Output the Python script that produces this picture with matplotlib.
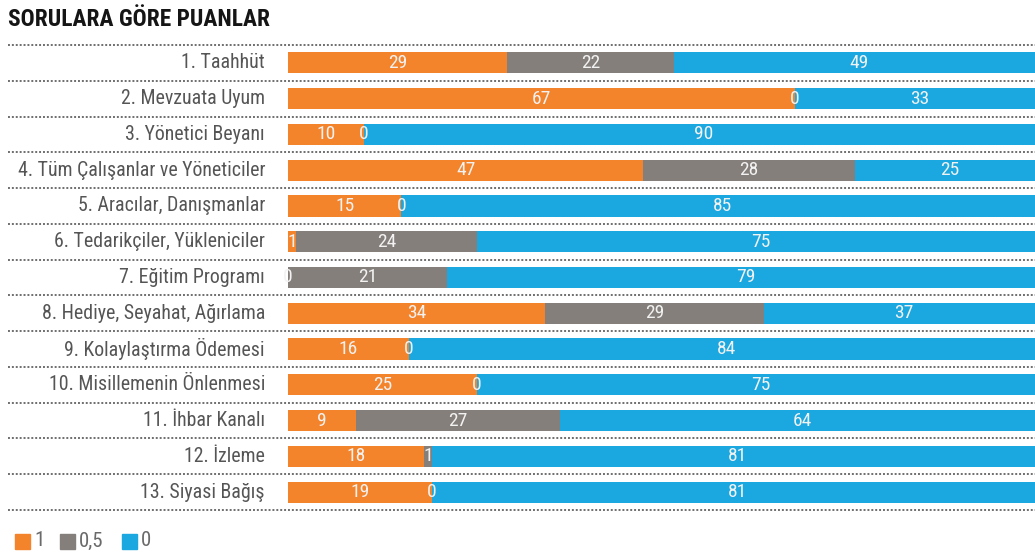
import matplotlib
matplotlib.use("Agg")
import matplotlib.pyplot as plt
from matplotlib.transforms import blended_transform_factory
from matplotlib.patches import Rectangle
import numpy as np

plt.rcParams['font.family'] = ['Roboto Condensed', 'DejaVu Sans']

title = "SORULARA GÖRE PUANLAR"
categories = [
    "1. Taahhüt",
    "2. Mevzuata Uyum",
    "3. Yönetici Beyanı",
    "4. Tüm Çalışanlar ve Yöneticiler",
    "5. Aracılar, Danışmanlar",
    "6. Tedarikçiler, Yükleniciler",
    "7. Eğitim Programı",
    "8. Hediye, Seyahat, Ağırlama",
    "9. Kolaylaştırma Ödemesi",
    "10. Misillemenin Önlenmesi",
    "11. İhbar Kanalı",
    "12. İzleme",
    "13. Siyasi Bağış",
]
score_1 = [29, 67, 10, 47, 15, 1, 0, 34, 16, 25, 9, 18, 19]
score_05 = [22, 0, 0, 28, 0, 24, 21, 29, 0, 0, 27, 1, 0]
score_0 = [49, 33, 90, 25, 85, 75, 79, 37, 84, 75, 64, 81, 81]
series_names = ["1", "0,5", "0"]
colors = ["#F4842C", "#857F7B", "#1BA7E0"]

W, H = 1035, 556
fig = plt.figure(figsize=(W / 100, H / 100), dpi=100)
ax = fig.add_axes([288 / W, 1 - 510 / H, 1 - 288 / W, (510 - 45) / H])

y = np.arange(len(categories))
left = np.zeros(len(categories))
for vals, col in zip([score_1, score_05, score_0], colors):
    vals = np.array(vals, dtype=float)
    ax.barh(y, vals, left=left, height=0.59, color=col, edgecolor='none')
    for yi, l, v in zip(y, left, vals):
        ax.text(l + v / 2, yi, f"{int(v)}", ha='center', va='center',
                color='#F2F2F2', fontsize=14)
    left = left + vals

ax.set_xlim(0, 98.8)
ax.set_ylim(len(categories) - 0.5, -0.5)
ax.axis('off')

# category labels, right-aligned left of the bars
trans = blended_transform_factory(fig.transFigure, ax.transData)
for yi, c in zip(y, categories):
    ax.text(265 / W, yi, c, transform=trans, ha='right', va='center',
            color='#555555', fontsize=14.3)

# dotted row separators
for yb in np.arange(-0.5, len(categories) + 0.5, 1.0):
    ax.plot([8 / W, 1.0], [yb, yb], transform=trans, color='#6E6E6E',
            linestyle=(0, (1, 1)), linewidth=1.4, clip_on=False)

fig.text(8 / W, 1 - 19 / H, title, ha='left', va='center', fontsize=16.8,
         fontweight='bold', color='#151515')

# legend
lx = [15, 60, 122]
for x0, col, name in zip(lx, colors, series_names):
    fig.add_artist(Rectangle((x0 / W, 1 - 549 / H), 15 / W, 15 / H,
                             transform=fig.transFigure, color=col))
    fig.text((x0 + 19) / W, 1 - 541 / H, name, ha='left', va='center',
             fontsize=15, color='#6A6A6A')

fig.savefig("out.png", dpi=100, facecolor='white')
